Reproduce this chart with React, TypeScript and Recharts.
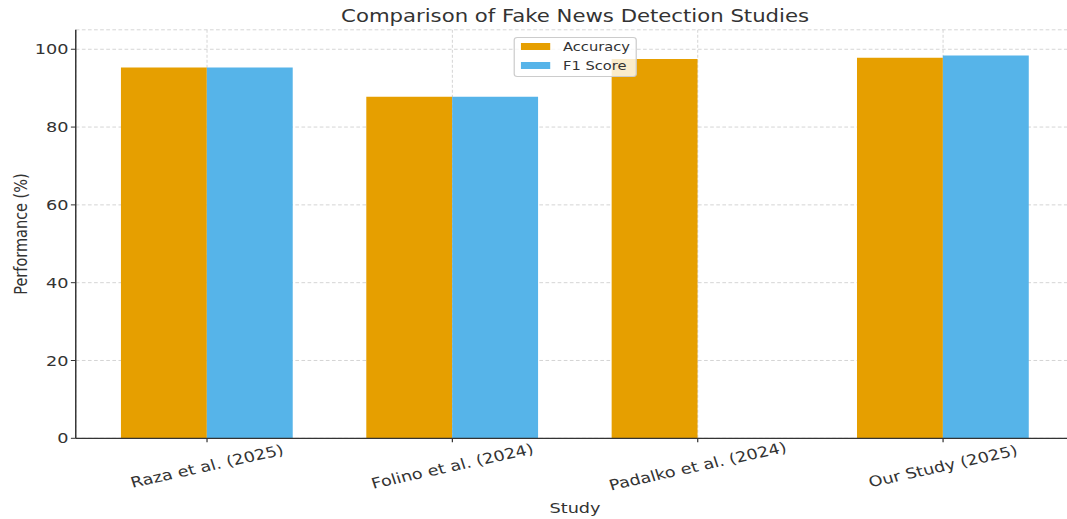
import React from "react";
import { BarChart, Bar, XAxis, YAxis, CartesianGrid } from "recharts";

// ─── Data ─────────────────────────────────────────────────────────────────────

const studies = ["Raza et al. (2025)", "Folino et al. (2024)", "Padalko et al. (2024)", "Our Study (2025)"];
const accuracy = [95.3, 87.8, 97.5, 97.8];
const f1Score: Array<number | null> = [95.3, 87.8, null, 98.4];
const yTicks = [0, 20, 40, 60, 80, 100];

const data = studies.map((name, i) => ({
  idx: i,
  name,
  accuracy: accuracy[i],
  f1: f1Score[i],
}));

// ─── Style ────────────────────────────────────────────────────────────────────

const ORANGE = "#E69F00";
const BLUE = "#56B4E9";
const TEXT = "#333333";
const FONT = "DejaVu Sans";
// the reference is stretched horizontally; draw in logical space then scale
const STRETCH = 1.22;
const W = 895;
const H = 519;

function StudyTick(props: any) {
  const { x, y, payload } = props;
  return (
    <g transform={`translate(${x},${y + 21})`}>
      <text
        x={0}
        y={0}
        transform="rotate(-15)"
        textAnchor="middle"
        dominantBaseline="central"
        fill={TEXT}
        fontSize={14.5}
        fontFamily={FONT}
      >
        {studies[payload.value]}
      </text>
    </g>
  );
}

function LegendItem({ color, label, top }: { color: string; label: string; top: number }) {
  return (
    <>
      <div style={{ position: "absolute", left: 5, top, width: 24.6, height: 7, background: color }} />
      <span
        style={{
          position: "absolute",
          left: 40,
          top: top - 4.5,
          fontSize: 12,
          lineHeight: "16px",
          color: TEXT,
          fontFamily: FONT,
          whiteSpace: "nowrap",
        }}
      >
        {label}
      </span>
    </>
  );
}

export default function App() {
  return (
    <div style={{ position: "absolute", left: 0, top: 0, width: 1067, height: H, overflow: "hidden", background: "#fff" }}>
      <div
        style={{
          position: "absolute",
          left: 0,
          top: 0,
          width: W,
          height: H,
          transform: `scaleX(${STRETCH})`,
          transformOrigin: "0 0",
        }}
      >
        <BarChart
          width={W}
          height={H}
          data={data}
          margin={{ top: 29.8, right: 14.4, bottom: 0, left: 0 }}
          barGap={0}
          barSize={70.4}
          style={{ fontFamily: FONT }}
        >
          <CartesianGrid stroke="#d0d0d0" strokeDasharray="3 2" strokeWidth={0.8} />
          <XAxis
            dataKey="idx"
            type="number"
            domain={[-0.535, 3.535]}
            ticks={[0, 1, 2, 3]}
            interval={0}
            height={80.7}
            axisLine={{ stroke: TEXT, strokeWidth: 1.2 }}
            tickLine={{ stroke: TEXT }}
            tickSize={4}
            tickMargin={3}
            tick={<StudyTick />}
            label={(p: any) => {
              const vb = p.viewBox;
              return (
                <text
                  x={vb.x + vb.width / 2}
                  y={513}
                  textAnchor="middle"
                  fill={TEXT}
                  fontSize={14.5}
                  fontFamily={FONT}
                >
                  Study
                </text>
              );
            }}
          />
          <YAxis
            type="number"
            domain={[0, 105]}
            ticks={yTicks}
            width={62.1}
            axisLine={{ stroke: TEXT, strokeWidth: 1.2 }}
            tickLine={{ stroke: TEXT }}
            tickSize={4}
            tickMargin={2}
            tick={{ fill: TEXT, fontSize: 14.5, fontFamily: FONT }}
            label={(p: any) => {
              const vb = p.viewBox;
              const cy = vb.y + vb.height / 2;
              return (
                <text
                  x={22}
                  y={cy}
                  transform={`rotate(-90, 22, ${cy})`}
                  textAnchor="middle"
                  fill={TEXT}
                  fontSize={14.5}
                  fontFamily={FONT}
                >
                  Performance (%)
                </text>
              );
            }}
          />
          <Bar dataKey="accuracy" name="Accuracy" fill={ORANGE} isAnimationActive={false} />
          <Bar dataKey="f1" name="F1 Score" fill={BLUE} isAnimationActive={false} />
        </BarChart>

        {/* title */}
        <svg
          width={W}
          height={40}
          style={{ position: "absolute", left: 0, top: 0, pointerEvents: "none" }}
        >
          <text x={471.4} y={22} textAnchor="middle" fill={TEXT} fontSize={17.4} fontFamily={FONT}>
            Comparison of Fake News Detection Studies
          </text>
        </svg>

        {/* legend */}
        <div
          style={{
            position: "absolute",
            left: 420.5,
            top: 37,
            width: 101.6,
            height: 40,
            boxSizing: "border-box",
            border: "1px solid #cccccc",
            borderRadius: 3,
            background: "rgba(255,255,255,0.8)",
          }}
        >
          <LegendItem color={ORANGE} label="Accuracy" top={5} />
          <LegendItem color={BLUE} label="F1 Score" top={24} />
        </div>
      </div>
    </div>
  );
}
